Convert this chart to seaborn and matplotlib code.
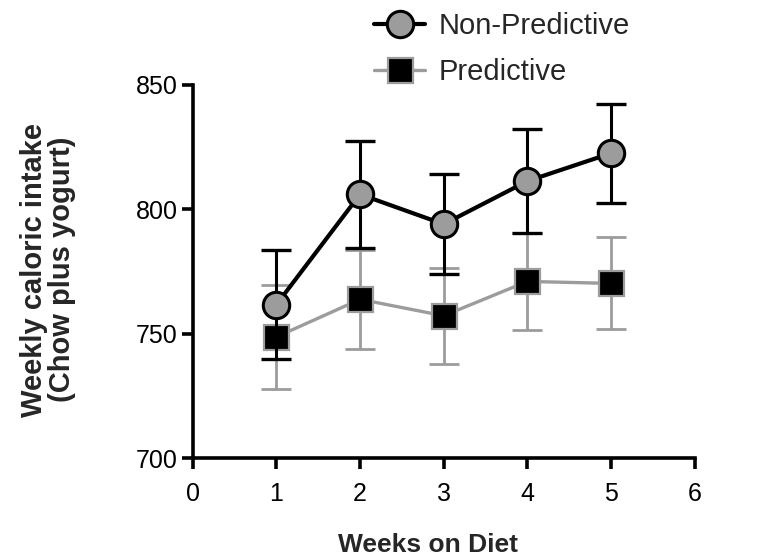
import matplotlib
matplotlib.use("Agg")
import matplotlib.pyplot as plt
import seaborn as sns
import pandas as pd
from matplotlib.lines import Line2D

weeks = [1, 2, 3, 4, 5]
nonpred_mean = [761.7, 806.0, 794.0, 811.3, 822.5]
nonpred_err = [22.0, 21.5, 20.0, 20.8, 19.8]
pred_mean = [748.7, 763.8, 757.2, 771.0, 770.2]
pred_err = [21.0, 20.0, 19.3, 19.5, 18.5]
group_names = ["Non-Predictive", "Predictive"]
x_ticks = [0, 1, 2, 3, 4, 5, 6]
y_ticks = [700, 750, 800, 850]

sns.set_theme(style="ticks")
plt.rcParams['font.family'] = ['Liberation Sans', 'DejaVu Sans']

fig = plt.figure(figsize=(7.65, 5.58), dpi=100)
ax = fig.add_axes([0.252, 0.179, 0.656, 0.669])

gray = "#9c9c9c"
df_p = pd.DataFrame({"week": weeks, "val": pred_mean})
df_n = pd.DataFrame({"week": weeks, "val": nonpred_mean})

# Predictive (drawn first, below)
ax.errorbar(weeks, pred_mean, yerr=pred_err, fmt="none", ecolor=gray,
            elinewidth=2.0, capsize=11, capthick=2.0, zorder=2)
sns.lineplot(data=df_p, x="week", y="val", ax=ax, color=gray, linewidth=2.4,
             marker="s", markersize=18, markerfacecolor="black",
             markeredgecolor=gray, markeredgewidth=1.6, zorder=3)

# Non-Predictive
ax.errorbar(weeks, nonpred_mean, yerr=nonpred_err, fmt="none", ecolor="black",
            elinewidth=2.2, capsize=11, capthick=2.4, zorder=4)
sns.lineplot(data=df_n, x="week", y="val", ax=ax, color="black", linewidth=3.0,
             marker="o", markersize=19, markerfacecolor=gray,
             markeredgecolor="black", markeredgewidth=2.2, zorder=5)

ax.set_xlim(0, 6)
ax.set_ylim(700, 850)
ax.set_xticks(x_ticks)
ax.set_yticks(y_ticks)
ax.tick_params(axis="both", direction="out", length=8, width=2.6,
               labelsize=18, color="black", labelcolor="black")
ax.tick_params(axis="x", pad=9)
ax.tick_params(axis="y", pad=3)
for s in ["left", "bottom"]:
    ax.spines[s].set_linewidth(2.6)
    ax.spines[s].set_color("black")
sns.despine(ax=ax)

ax.set_xlabel("Weeks on Diet", fontsize=19, fontweight="bold")
ax.xaxis.set_label_coords(0.468, -0.2)
ax.set_ylabel("Weekly caloric intake\n(Chow plus yogurt)", fontsize=21,
              fontweight="bold", linespacing=1.0)
ax.yaxis.set_label_coords(-0.232, 0.505)

handles = [
    Line2D([0], [0], color="black", linewidth=3.0, marker="o", markersize=19,
           markerfacecolor=gray, markeredgecolor="black", markeredgewidth=2.2),
    Line2D([0], [0], color=gray, linewidth=2.4, marker="s", markersize=18,
           markerfacecolor="black", markeredgecolor=gray, markeredgewidth=1.6),
]
fig.legend(handles, group_names, loc="upper left",
           bbox_to_anchor=(0.474, 0.999), frameon=False, fontsize=21,
           handlelength=1.75, handletextpad=0.45, labelspacing=0.62,
           borderaxespad=0.0)

fig.savefig("out.png", dpi=100)
